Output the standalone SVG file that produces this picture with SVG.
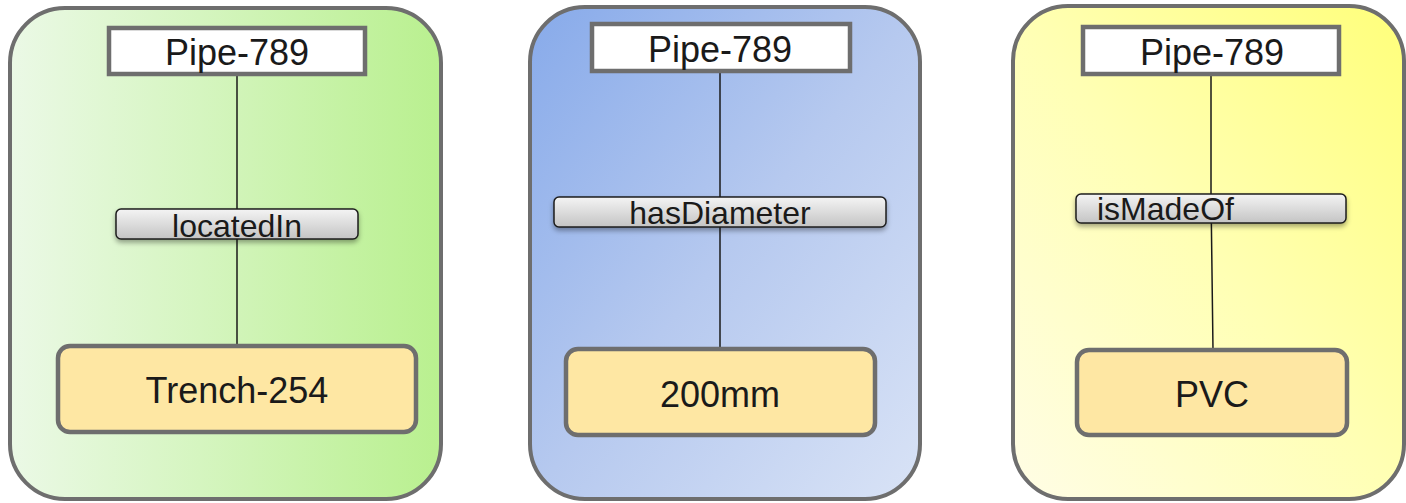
<svg xmlns="http://www.w3.org/2000/svg" width="1406" height="503" viewBox="0 0 1406 503">
<defs>
<linearGradient id="gGreen" x1="0" y1="0" x2="1" y2="0">
<stop offset="0" stop-color="#ebf9e6"/>
<stop offset="1" stop-color="#b9f08f"/>
</linearGradient>
<linearGradient id="gBlue" x1="0" y1="0" x2="1" y2="1">
<stop offset="0" stop-color="#87aaea"/>
<stop offset="0.5" stop-color="#b6c9ef"/>
<stop offset="1" stop-color="#d9e3f6"/>
</linearGradient>
<linearGradient id="gYellow" x1="1" y1="0" x2="0" y2="1">
<stop offset="0" stop-color="#ffff7a"/>
<stop offset="0.5" stop-color="#ffffb4"/>
<stop offset="1" stop-color="#fffde6"/>
</linearGradient>
<linearGradient id="gLabel" x1="0" y1="0" x2="0" y2="1">
<stop offset="0" stop-color="#f4f4f4"/>
<stop offset="1" stop-color="#c4c4c4"/>
</linearGradient>
<filter id="shadow" x="-10%" y="-30%" width="120%" height="180%">
<feDropShadow dx="0" dy="3" stdDeviation="2.5" flood-color="#000" flood-opacity="0.35"/>
</filter>
</defs>
<style>
.panel{stroke:#6e6e6e;stroke-width:4}
.pipe{fill:#ffffff;stroke:#6e6e6e;stroke-width:4.5}
.value{fill:#fee7a3;stroke:#6e6e6e;stroke-width:4.5}
.label{fill:url(#gLabel);stroke:#1e1e1e;stroke-width:1.5;filter:url(#shadow)}
.conn{stroke:#1a1a1a;stroke-width:1.5;fill:none}
text{font-family:"Liberation Sans",Arial,sans-serif;fill:#1a1a1a}
.big{font-size:36px;text-anchor:middle}
.lab{font-size:32px}
</style>

<g id="panel-green">
<rect class="panel" x="10" y="8" width="431" height="491" rx="55" fill="url(#gGreen)"/>
</g>
<g id="panel-blue">
<rect class="panel" x="530" y="7" width="390" height="492" rx="55" fill="url(#gBlue)"/>
</g>
<g id="panel-yellow">
<rect class="panel" x="1013" y="6" width="391" height="493" rx="55" fill="url(#gYellow)"/>
</g>

<g id="connectors">
<line class="conn" x1="237" y1="74" x2="237" y2="346"/>
<line class="conn" x1="720" y1="71" x2="720" y2="349"/>
<polyline class="conn" points="1211,75 1211,194 1213,350"/>
</g>

<g id="pipe1"><rect class="pipe" x="109" y="28" width="256" height="46"/><text class="big" x="237" y="65">Pipe-789</text></g>
<g id="label1"><rect class="label" x="116" y="209" width="242" height="30" rx="5"/><text class="lab" x="237" y="237" text-anchor="middle">locatedIn</text></g>
<g id="value1"><rect class="value" x="58" y="346" width="358" height="86" rx="12"/><text class="big" x="237" y="403">Trench-254</text></g>

<g id="pipe2"><rect class="pipe" x="592" y="24" width="258" height="47"/><text class="big" x="720" y="62">Pipe-789</text></g>
<g id="label2"><rect class="label" x="554" y="197" width="332" height="30" rx="5"/><text class="lab" x="720" y="224" text-anchor="middle">hasDiameter</text></g>
<g id="value2"><rect class="value" x="566" y="349" width="309" height="86" rx="12"/><text class="big" x="720" y="407">200mm</text></g>

<g id="pipe3"><rect class="pipe" x="1083" y="27" width="256" height="47"/><text class="big" x="1212" y="65">Pipe-789</text></g>
<g id="label3"><rect class="label" x="1076" y="194" width="270" height="29" rx="5"/><text class="lab" x="1097" y="220">isMadeOf</text></g>
<g id="value3"><rect class="value" x="1077" y="350" width="270" height="85" rx="12"/><text class="big" x="1212" y="407">PVC</text></g>
</svg>
